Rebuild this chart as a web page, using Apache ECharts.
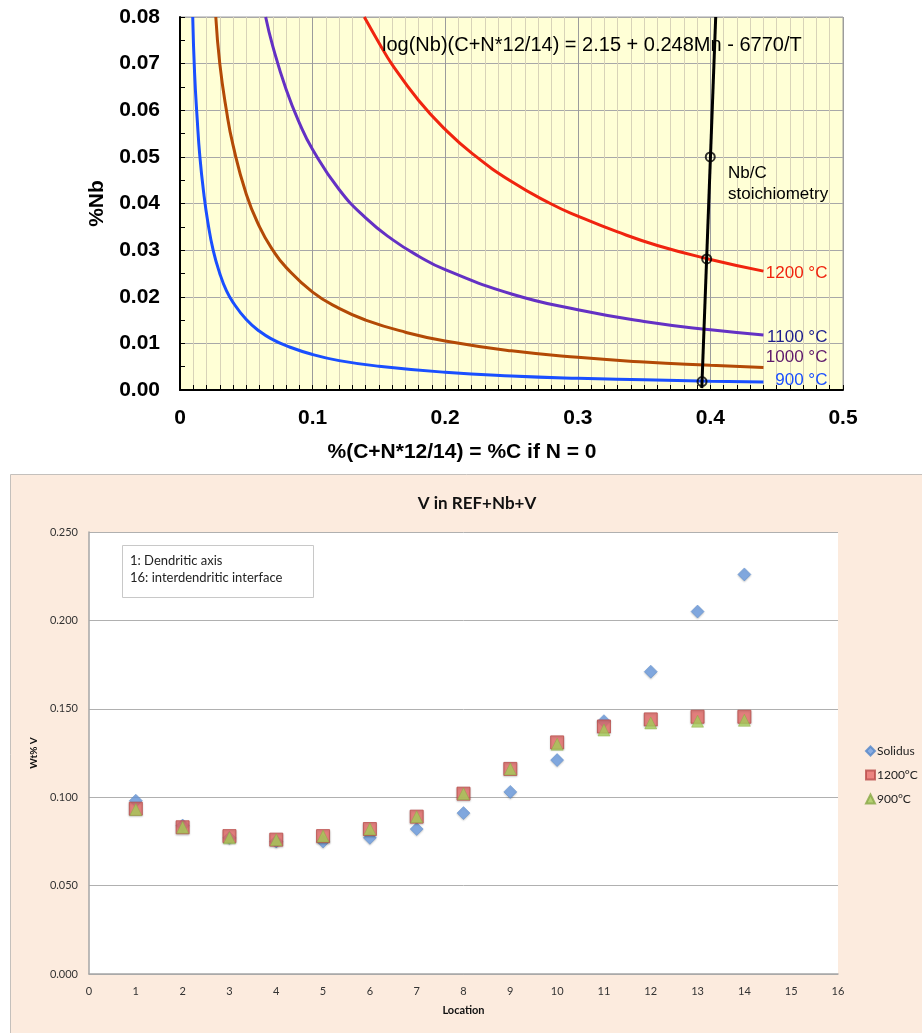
<!DOCTYPE html>
<html>
<head>
<meta charset="utf-8">
<script src="https://cdn.jsdelivr.net/npm/echarts@6/dist/echarts.min.js"></script>
<style>
  html, body { margin: 0; padding: 0; background: #ffffff; }
  #chart { width: 922px; height: 1033px; }
</style>
</head>
<body>
<div id="chart"></div>
<script>
// ---- Nb solubility curves: [%(C+N*12/14), %Nb] ----
const curve900 = [
  [0.0096, 0.080], [0.011, 0.068], [0.013, 0.058], [0.015, 0.050], [0.018, 0.042],
  [0.021, 0.036], [0.025, 0.030], [0.030, 0.025], [0.035, 0.0213], [0.040, 0.0188],
  [0.050, 0.0151], [0.060, 0.0126], [0.070, 0.0108], [0.080, 0.0095], [0.100, 0.0076],
  [0.120, 0.0063], [0.150, 0.0051], [0.200, 0.0038], [0.250, 0.0030], [0.300, 0.0025],
  [0.350, 0.0022], [0.400, 0.0019], [0.440, 0.0017]
];
const curve1000 = [
  [0.027, 0.080], [0.030, 0.070], [0.035, 0.060], [0.040, 0.0525], [0.050, 0.0420],
  [0.060, 0.0350], [0.070, 0.0300], [0.080, 0.0263], [0.100, 0.0210], [0.120, 0.0175],
  [0.140, 0.0150], [0.170, 0.0124], [0.200, 0.0105], [0.250, 0.0084], [0.300, 0.0070],
  [0.350, 0.0060], [0.400, 0.0053], [0.440, 0.0048]
];
const curve1100 = [
  [0.0646, 0.080], [0.070, 0.0737], [0.080, 0.0645], [0.090, 0.0573], [0.100, 0.0516],
  [0.120, 0.0430], [0.140, 0.0369], [0.160, 0.0323], [0.180, 0.0287], [0.200, 0.0258],
  [0.250, 0.0206], [0.300, 0.0172], [0.350, 0.0147], [0.400, 0.0129], [0.440, 0.0118]
];
const curve1200 = [
  [0.139, 0.080], [0.150, 0.0745], [0.160, 0.0698], [0.180, 0.0621], [0.200, 0.0559],
  [0.220, 0.0508], [0.250, 0.0447], [0.280, 0.0399], [0.300, 0.0373], [0.330, 0.0339],
  [0.360, 0.0310], [0.400, 0.0280], [0.440, 0.0255]
];
// Nb/C stoichiometry line and its marked points
const stoichLine = [[0.3935, 0.0004], [0.4040, 0.080]];
const stoichPoints = [[0.3937, 0.0018], [0.3972, 0.0281], [0.3999, 0.050]];

// ---- V profile across the dendrite: wt% V at each location ----
const locations = [1, 2, 3, 4, 5, 6, 7, 8, 9, 10, 11, 12, 13, 14];
const vSolidus = [0.098, 0.084, 0.077, 0.075, 0.075, 0.077, 0.082, 0.091, 0.103, 0.121, 0.143, 0.171, 0.205, 0.226];
const v1200 = [0.0935, 0.083, 0.078, 0.076, 0.078, 0.082, 0.089, 0.102, 0.116, 0.131, 0.140, 0.144, 0.1455, 0.1455];
const v900 = [0.093, 0.083, 0.077, 0.076, 0.078, 0.082, 0.089, 0.102, 0.116, 0.130, 0.138, 0.142, 0.143, 0.1435];

const SANS = '"Liberation Sans", Arial, sans-serif';
const BODY = 'Lato, "Open Sans", sans-serif';

function pairs(xs, ys) { return xs.map((x, i) => [x, ys[i]]); }

function curveSeries(name, data, color, labelColor, dy) {
  return {
    name: name, type: 'line', xAxisIndex: 0, yAxisIndex: 0,
    data: data, smooth: true, showSymbol: false, symbol: 'none',
    lineStyle: { color: color, width: 3 }, z: 3,
    endLabel: {
      show: true, formatter: name, fontFamily: SANS, fontSize: 17,
      color: labelColor, align: 'right', distance: 0, offset: [64, dy]
    }
  };
}

const chart = echarts.init(document.getElementById('chart'), null, { renderer: 'canvas' });

chart.setOption({
  animation: false,
  backgroundColor: '#ffffff',
  title: {
    text: 'V in REF+Nb+V', left: 472, top: 490, textAlign: 'center',
    textStyle: { fontFamily: BODY, fontSize: 17, fontWeight: 'bold', color: '#111' }
  },
  grid: [
    { left: 180, top: 17, width: 663, height: 373, show: true,
      backgroundColor: '#ffffd6', borderColor: '#a0a0a0', borderWidth: 1 },
    { left: 89, top: 532, width: 749, height: 442, show: true,
      backgroundColor: '#ffffff', borderWidth: 0 }
  ],
  xAxis: [
    {
      gridIndex: 0, type: 'value', min: 0, max: 0.5, interval: 0.1,
      axisLine: { onZero: false, lineStyle: { color: '#000', width: 2 } },
      axisTick: { show: true, inside: true, length: 5, lineStyle: { color: '#000' } },
      minorTick: { show: true, splitNumber: 10, length: 5, lineStyle: { color: '#000' } },
      splitLine: { show: true, lineStyle: { color: '#9c9c9c', width: 1 } },
      minorSplitLine: { show: true, lineStyle: { color: '#d8d3b8', width: 1 } },
      axisLabel: {
        margin: 18, fontFamily: SANS, fontSize: 21, fontWeight: 'bold', color: '#000',
        formatter: v => (v === 0 ? '0' : v.toFixed(1))
      }
    },
    {
      gridIndex: 1, type: 'value', min: 0, max: 16, interval: 1,
      axisLine: { onZero: false, lineStyle: { color: '#a6a6a6', width: 1.5 } },
      axisTick: { show: false },
      splitLine: { show: false },
      axisLabel: { margin: 12, fontFamily: BODY, fontSize: 11, color: '#333' },
      name: 'Location', nameLocation: 'middle', nameGap: 31,
      nameTextStyle: { fontFamily: BODY, fontSize: 11, fontWeight: 'bold', color: '#111' }
    }
  ],
  yAxis: [
    {
      gridIndex: 0, type: 'value', min: 0, max: 0.08, interval: 0.01,
      axisLine: { onZero: false, lineStyle: { color: '#000', width: 2 } },
      axisTick: { show: true, inside: true, length: 5, lineStyle: { color: '#000' } },
      minorTick: { show: true, splitNumber: 2, length: 5, lineStyle: { color: '#000' } },
      splitLine: { show: true, lineStyle: { color: '#a8a8a8', width: 1 } },
      axisLabel: {
        margin: 20, fontFamily: SANS, fontSize: 21, fontWeight: 'bold', color: '#000',
        formatter: v => v.toFixed(2)
      },
      name: '%Nb', nameLocation: 'middle', nameGap: 72, nameRotate: 90,
      nameTextStyle: { fontFamily: SANS, fontSize: 21, fontWeight: 'bold', color: '#000' }
    },
    {
      gridIndex: 1, type: 'value', min: 0, max: 0.25, interval: 0.05,
      axisLine: { show: true, onZero: false, lineStyle: { color: '#a6a6a6', width: 1.5 } },
      axisTick: { show: false },
      splitLine: { show: true, lineStyle: { color: '#b0b0b0', width: 1 } },
      axisLabel: { margin: 11, fontFamily: BODY, fontSize: 11, color: '#333',
        formatter: v => v.toFixed(3) },
      name: 'Wt% V', nameLocation: 'middle', nameGap: 46, nameRotate: 90,
      nameTextStyle: { fontFamily: BODY, fontSize: 10, fontWeight: 'bold', color: '#111' }
    }
  ],
  legend: {
    orient: 'vertical', left: 865, top: 745, itemGap: 12,
    itemWidth: 9, itemHeight: 9, padding: 0,
    textStyle: { fontFamily: BODY, fontSize: 12, color: '#222', padding: [0, 0, 0, -3] },
    data: [
      { name: 'Solidus', icon: 'diamond' },
      { name: '1200°C', icon: 'rect' },
      { name: '900°C', icon: 'triangle' }
    ]
  },
  graphic: [
    { type: 'rect', z: -5, silent: true,
      shape: { x: 10.5, y: 474.5, width: 920, height: 570 },
      style: { fill: '#fcebde', stroke: '#c4c0bc', lineWidth: 1 } },
    { type: 'text', left: 382, top: 35, z: 10,
      style: { text: 'log(Nb)(C+N*12/14) = 2.15 + 0.248Mn - 6770/T',
        fontFamily: SANS, fontSize: 20, fill: '#000' } },
    { type: 'text', left: 728, top: 163, z: 10,
      style: { text: 'Nb/C\nstoichiometry', fontFamily: SANS, fontSize: 17,
        lineHeight: 21, fill: '#000' } },
    { type: 'text', x: 462, y: 452, z: 10,
      style: { text: '%(C+N*12/14) = %C if N = 0', fontFamily: SANS, fontSize: 21,
        fontWeight: 'bold', fill: '#000', align: 'center', verticalAlign: 'middle' } },
    { type: 'group', left: 122, top: 545, z: 10, children: [
      { type: 'rect', shape: { x: 0.5, y: 0.5, width: 191, height: 52 },
        style: { fill: '#ffffff', stroke: '#c8c8c8', lineWidth: 1 } },
      { type: 'text', x: 8, y: 7,
        style: { text: '1: Dendritic axis\n16: interdendritic interface',
          fontFamily: BODY, fontSize: 13, lineHeight: 17, fill: '#222' } }
    ] }
  ],
  series: [
    curveSeries('900 °C', curve900, '#1a4fff', '#1a4fff', -2),
    curveSeries('1000 °C', curve1000, '#b34a06', '#5e1a6c', -10),
    curveSeries('1100 °C', curve1100, '#6431c4', '#1c1c8e', 2),
    curveSeries('1200 °C', curve1200, '#f0240f', '#f0240f', 2),
    {
      name: 'stoichiometry', type: 'line', xAxisIndex: 0, yAxisIndex: 0,
      data: stoichLine, showSymbol: false, symbol: 'none',
      lineStyle: { color: '#000', width: 3 }, z: 4
    },
    {
      name: 'stoichiometry points', type: 'scatter', xAxisIndex: 0, yAxisIndex: 0,
      data: stoichPoints, symbol: 'circle', symbolSize: 9,
      itemStyle: { color: 'rgba(0,0,0,0)', borderColor: '#000', borderWidth: 2 }, z: 5
    },
    {
      name: 'Solidus', type: 'scatter', xAxisIndex: 1, yAxisIndex: 1,
      data: pairs(locations, vSolidus), symbol: 'diamond', symbolSize: 13,
      itemStyle: { color: '#6d9ee2', borderColor: '#5486c8', borderWidth: 0.6,
        shadowBlur: 2, shadowColor: 'rgba(0,0,0,0.25)', shadowOffsetY: 1 }, z: 3
    },
    {
      name: '1200°C', type: 'scatter', xAxisIndex: 1, yAxisIndex: 1,
      data: pairs(locations, v1200), symbol: 'rect', symbolSize: 13,
      itemStyle: { color: '#e76a68', borderColor: '#b94c4a', borderWidth: 1,
        shadowBlur: 2, shadowColor: 'rgba(0,0,0,0.25)', shadowOffsetY: 1 }, z: 4
    },
    {
      name: '900°C', type: 'scatter', xAxisIndex: 1, yAxisIndex: 1,
      data: pairs(locations, v900), symbol: 'triangle', symbolSize: 12,
      itemStyle: { color: '#a3ca58', borderColor: '#88a846', borderWidth: 0.6 }, z: 5
    }
  ]
});
</script>
</body>
</html>
